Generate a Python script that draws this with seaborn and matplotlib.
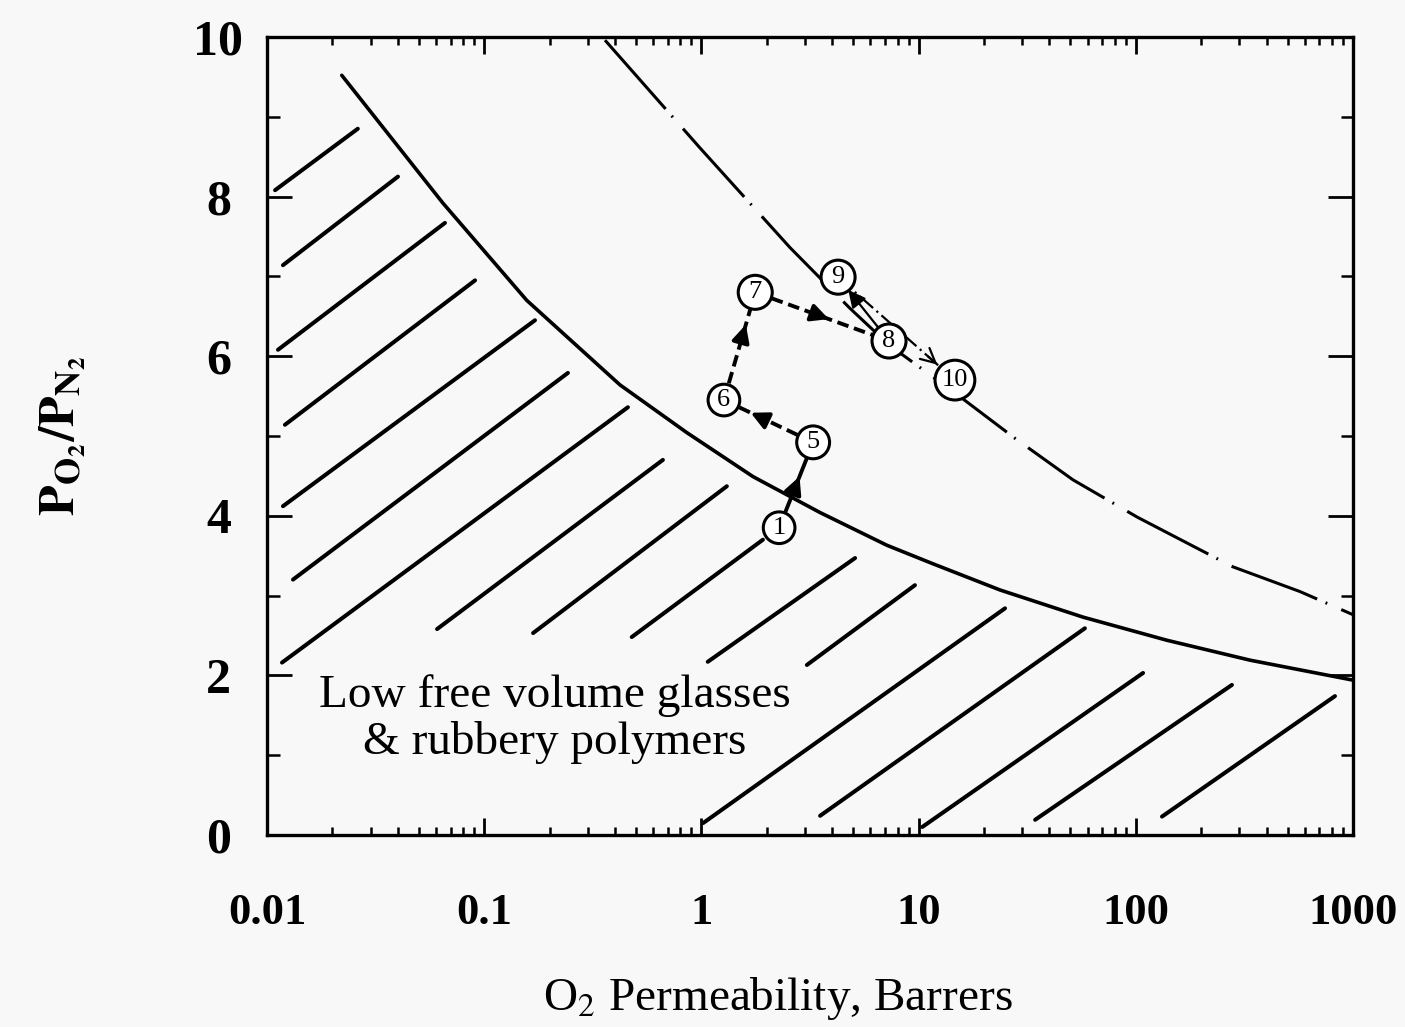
import numpy as np
import pandas as pd
import matplotlib
matplotlib.use('Agg')
import matplotlib.pyplot as plt
import seaborn as sns
from matplotlib.ticker import LogLocator, NullFormatter

# axis ticks
x_ticks = [0.01, 0.1, 1, 10, 100, 1000]
x_tick_labels = ['0.01', '0.1', '1', '10', '100', '1000']
y_ticks = [0, 2, 4, 6, 8, 10]
y_minor_ticks = [1, 3, 5, 7, 9]

# solid upper bound curve
upper_x = [0.0221, 0.0645, 0.157, 0.422, 0.859, 1.73, 3.52, 7.15, 11.6, 23.7, 57.1, 139, 336, 1000]
upper_y = [9.52, 7.92, 6.70, 5.64, 5.04, 4.49, 4.04, 3.63, 3.40, 3.07, 2.73, 2.44, 2.19, 1.94]

# long dashed curve
bound_x = [0.360, 0.985, 2.56, 4.83, 7.31, 14.7, 27.8, 51.4, 102, 280, 570, 1000]
bound_y = [9.96, 8.61, 7.36, 6.60, 6.14, 5.54, 4.97, 4.45, 3.98, 3.36, 3.05, 2.76]

# hatch strokes of the "low free volume" region: start and end of each stroke
hatch_x0 = [0.0109, 0.01185, 0.01124, 0.0121, 0.01185, 0.01318, 0.01173, 0.0607, 0.168, 0.478, 1.07, 3.06, 1.02, 3.52, 10.4, 34.4, 132]
hatch_y0 = [8.08, 7.14, 6.08, 5.14, 4.12, 3.20, 2.16, 2.58, 2.53, 2.48, 2.17, 2.13, 0.15, 0.24, 0.10, 0.19, 0.23]
hatch_x1 = [0.0262, 0.0401, 0.0660, 0.0908, 0.1714, 0.243, 0.459, 0.665, 1.31, 1.92, 5.10, 9.62, 25.0, 58.3, 108, 277, 826]
hatch_y1 = [8.85, 8.25, 7.67, 6.95, 6.45, 5.79, 5.36, 4.70, 4.37, 3.70, 3.47, 3.13, 2.84, 2.59, 2.03, 1.88, 1.74]

# numbered polymers, in the order of the arrows
pt_labels = ['1', '5', '6', '7', '8', '9', '10']
pt_x = [2.28, 3.27, 1.27, 1.77, 7.31, 4.26, 14.7]
pt_y = [3.85, 4.92, 5.45, 6.80, 6.19, 6.99, 5.70]
pt_size = [520, 560, 520, 600, 600, 600, 820]

# arrow styling between consecutive points
arrow_ls = ['-', (0, (3, 1.5)), (0, (3, 1.5)), (0, (3, 1.5)), '-', (0, (8, 2, 1, 2))]
arrow_lw = [2.8, 2.8, 2.8, 2.8, 1.6, 1.6]
arrow_head = [0.6, 0.7, 0.7, 0.55, 0.8, 0.85]
arrow_style = ['-|>', '-|>', '-|>', '-|>', '-|>', '->']

sns.set_style('ticks')
plt.rcParams['font.family'] = ['Liberation Serif', 'DejaVu Serif']
plt.rcParams['mathtext.fontset'] = 'stix'
for key in ['text.color', 'axes.labelcolor', 'xtick.color', 'ytick.color', 'axes.edgecolor']:
    plt.rcParams[key] = 'black'

bg = '#f8f8f8'
fig = plt.figure(figsize=(14.05, 10.27), dpi=100, facecolor=bg)
ax = fig.add_axes([0.190, 0.187, 0.773, 0.777])
ax.set_facecolor(bg)
ax.set_xscale('log')

# curves
sns.lineplot(x=upper_x, y=upper_y, sort=False, estimator=None, color='black', lw=2.6, ax=ax)
sns.lineplot(x=bound_x, y=bound_y, sort=False, estimator=None, color='black', lw=2.2,
             ax=ax).lines[-1].set_dashes((30, 3, 0.6, 5))

# hatching
n = len(hatch_x0)
hatch = pd.DataFrame({
    'seg': np.repeat(np.arange(n), 2),
    'x': np.column_stack([hatch_x0, hatch_x1]).ravel(),
    'y': np.column_stack([hatch_y0, hatch_y1]).ravel(),
})
sns.lineplot(data=hatch, x='x', y='y', units='seg', estimator=None, sort=False,
             color='black', lw=2.9, ax=ax)


def logmix(a, b, t):
    return 10 ** (np.log10(a) + t * (np.log10(b) - np.log10(a)))


# arrows between the numbered points
for i in range(len(pt_x) - 1):
    x0, y0, x1, y1 = pt_x[i], pt_y[i], pt_x[i + 1], pt_y[i + 1]
    ax.plot([x0, x1], [y0, y1], color='black', lw=arrow_lw[i], ls=arrow_ls[i], zorder=3)
    t = arrow_head[i]
    hx, hy = logmix(x0, x1, t), y0 + t * (y1 - y0)
    bx, by = logmix(x0, x1, t - 0.08), y0 + (t - 0.08) * (y1 - y0)
    ax.annotate('', xy=(hx, hy), xytext=(bx, by),
                arrowprops=dict(arrowstyle=arrow_style[i], color='black', lw=arrow_lw[i],
                                mutation_scale=26, shrinkA=0, shrinkB=0), zorder=4)

sns.scatterplot(x=pt_x, y=pt_y, s=pt_size, color='white', edgecolor='black',
                linewidth=2.2, zorder=5, ax=ax)
for lab, x, y in zip(pt_labels, pt_x, pt_y):
    ax.text(x, y, lab, ha='center', va='center', fontsize=19, zorder=6)

ax.text(0.212, 1.45, 'Low free volume glasses\n& rubbery polymers', ha='center', va='center',
        fontsize=34, linespacing=1.1, multialignment='center')

ax.set_xlim(0.01, 1000)
ax.set_ylim(0, 10)
ax.set_xticks(x_ticks)
ax.set_xticklabels(x_tick_labels)
ax.xaxis.set_minor_locator(LogLocator(base=10, subs=np.arange(2, 10)))
ax.xaxis.set_minor_formatter(NullFormatter())
ax.set_yticks(y_ticks)
ax.set_yticks(y_minor_ticks, minor=True)

ax.tick_params(axis='x', which='major', direction='in', top=True, length=12, width=2,
               pad=42, labelsize=32)
ax.tick_params(axis='x', which='minor', direction='in', top=True, length=6, width=1.8)
ax.tick_params(axis='y', which='major', direction='in', right=True, length=18, width=2,
               pad=35, labelsize=36)
ax.tick_params(axis='y', which='minor', direction='in', right=True, length=9, width=1.8)
for lab in ax.get_xticklabels() + ax.get_yticklabels():
    lab.set_fontweight('bold')
for lab in ax.get_yticklabels():
    lab.set_horizontalalignment('center')
for sp in ax.spines.values():
    sp.set_linewidth(2.4)

ax.set_xlabel(r'O$_2$ Permeability, Barrers', fontsize=34)
ax.xaxis.set_label_coords(0.47, -0.175)
ax.set_ylabel(r'$\mathbf{P_{O_2}/P_{N_2}}$', fontsize=36)
ax.yaxis.set_label_coords(-0.165, 0.5)

fig.savefig('out.png', dpi=100, facecolor=bg)
